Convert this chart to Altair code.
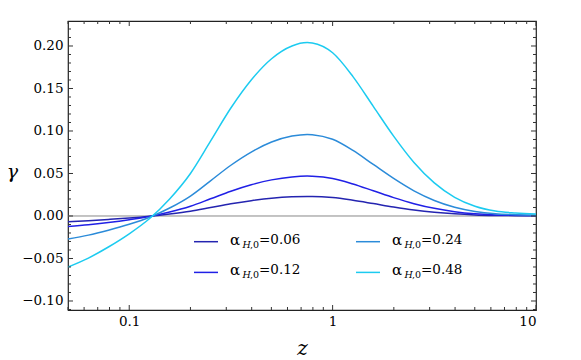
import altair as alt
import pandas as pd

# ---- data ----
z = [0.05, 0.063, 0.079, 0.1, 0.126, 0.158, 0.2, 0.251, 0.316, 0.398, 0.501, 0.631, 0.75,
     0.794, 1.0, 1.259, 1.585, 1.995, 2.512, 3.162, 3.981, 5.012, 6.31, 7.943, 10.0]
g006 = [-0.0067, -0.0055, -0.0041, -0.0024, -0.0003, 0.0023, 0.0056, 0.0099, 0.0143, 0.018,
        0.0209, 0.0226, 0.023, 0.023, 0.0217, 0.0185, 0.0146, 0.0106, 0.0071, 0.0044, 0.0025,
        0.0013, 0.0007, 0.0004, 0.0002]
g012 = [-0.0125, -0.0104, -0.0077, -0.0044, -0.0006, 0.0046, 0.0115, 0.0202, 0.0292, 0.0368,
        0.0425, 0.046, 0.047, 0.0468, 0.0442, 0.0377, 0.0297, 0.0216, 0.0145, 0.009, 0.0051,
        0.0026, 0.0013, 0.0008, 0.0005]
g024 = [-0.027, -0.0225, -0.0167, -0.0097, -0.0014, 0.0094, 0.0235, 0.0414, 0.0597, 0.0752,
        0.087, 0.094, 0.096, 0.0957, 0.0902, 0.0771, 0.0606, 0.0442, 0.0296, 0.0183, 0.0103,
        0.0054, 0.0027, 0.0016, 0.001]
g048 = [-0.060, -0.0495, -0.0365, -0.021, -0.003, 0.020, 0.050, 0.088, 0.127, 0.160, 0.185,
        0.200, 0.204, 0.2035, 0.192, 0.164, 0.129, 0.094, 0.063, 0.039, 0.022, 0.0115, 0.0058,
        0.0035, 0.0022]
alphas = ["0.06", "0.12", "0.24", "0.48"]
colors = ["#2424b0", "#2020e6", "#2b8bd9", "#1ccbf0"]
x_major = [0.1, 1, 10]
y_major = [-0.10, -0.05, 0.00, 0.05, 0.10, 0.15, 0.20]

series = [g006, g012, g024, g048]
df = pd.concat([pd.DataFrame({"z": z, "gamma": s, "alpha": a}) for s, a in zip(series, alphas)])

W, H = 468, 289
FONT = "DejaVu Serif"
x_scale = alt.Scale(type="log", domain=[0.05, 10], nice=False)
y_scale = alt.Scale(domain=[-0.1106, 0.2294], nice=False, zero=False)

x_axis = alt.Axis(values=x_major, labelExpr="format(datum.value, '~g')", ticks=False, domain=False,
                  grid=False, labelFont=FONT, labelFontSize=13.5, labelColor="black", labelPadding=4,
                  title="z", titleFont=FONT, titleFontStyle="italic", titleFontWeight="normal",
                  titleFontSize=20, titleColor="black", titleX=234, titleY=38,
                  titleAlign="center", titleBaseline="middle")
y_axis = alt.Axis(values=y_major, format=".2f", ticks=False, domain=False, grid=False,
                  labelFont=FONT, labelFontSize=13.5, labelColor="black", labelPadding=5,
                  title="γ", titleFont=FONT, titleFontStyle="italic", titleFontWeight="normal",
                  titleFontSize=19, titleColor="black", titleAngle=0, titleX=-56, titleY=150,
                  titleAlign="center", titleBaseline="middle")

X = lambda f: alt.X(f, scale=x_scale, axis=x_axis)
Y = lambda f: alt.Y(f, scale=y_scale, axis=y_axis)

layers = []

zero = alt.Chart(pd.DataFrame({"y0": [0.0]})).mark_rule(color="#888888", strokeWidth=1).encode(
    y=Y("y0:Q"))
layers.append(zero)

lines = alt.Chart(df).mark_line(strokeWidth=1.5, interpolate="monotone", clip=True).encode(
    x=X("z:Q"), y=Y("gamma:Q"),
    color=alt.Color("alpha:N", scale=alt.Scale(domain=alphas, range=colors), legend=None),
    detail="alpha:N")
layers.append(lines)

y_minor = [v / 100 for v in range(-11, 23) if v % 5 != 0]
x_minor = [m * d for d in (0.01, 0.1, 1) for m in range(2, 10) if 0.05 <= m * d < 10]
tick_col = "#333333"
for vals, ln in ((y_major, 5), (y_minor, 3)):
    d = pd.DataFrame({"v": vals})
    layers.append(alt.Chart(d).mark_rule(color=tick_col, strokeWidth=1).encode(
        y=Y("v:Q"), x=alt.value(0), x2=alt.value(ln)))
    layers.append(alt.Chart(d).mark_rule(color=tick_col, strokeWidth=1).encode(
        y=Y("v:Q"), x=alt.value(W), x2=alt.value(W - ln)))
for vals, ln in ((x_major, 5), (x_minor, 3)):
    d = pd.DataFrame({"v": vals})
    layers.append(alt.Chart(d).mark_rule(color=tick_col, strokeWidth=1).encode(
        x=X("v:Q"), y=alt.value(0), y2=alt.value(ln)))
    layers.append(alt.Chart(d).mark_rule(color=tick_col, strokeWidth=1).encode(
        x=X("v:Q"), y=alt.value(H), y2=alt.value(H - ln)))

one = pd.DataFrame({"k": [0]})
for i, (a, c) in enumerate(zip(alphas, colors)):
    row, col = i % 2, i // 2
    x0 = 126 + col * 162
    ty = 218.5 + row * 30.7
    ly = 220.7 + row * 30.7
    layers.append(alt.Chart(one).mark_rule(color=c, strokeWidth=1.5).encode(
        x=alt.value(x0), x2=alt.value(x0 + 24), y=alt.value(ly)))
    tx = x0 + 36
    layers.append(alt.Chart(one).mark_text(align="left", baseline="middle", font=FONT,
                                           fontSize=15, color="black").encode(
        x=alt.value(tx), y=alt.value(ty), text=alt.value("α")))
    layers.append(alt.Chart(one).mark_text(align="left", baseline="middle", font=FONT,
                                           fontSize=9.5, fontStyle="italic", color="black").encode(
        x=alt.value(tx + 12.5), y=alt.value(ty + 5), text=alt.value("H")))
    layers.append(alt.Chart(one).mark_text(align="left", baseline="middle", font=FONT,
                                           fontSize=9.5, color="black").encode(
        x=alt.value(tx + 20), y=alt.value(ty + 5), text=alt.value(",0")))
    layers.append(alt.Chart(one).mark_text(align="left", baseline="middle", font=FONT,
                                           fontSize=13.5, color="black").encode(
        x=alt.value(tx + 29), y=alt.value(ty), text=alt.value("=" + a)))

chart = alt.layer(*layers).properties(
    width=W, height=H,
    padding={"left": 60, "top": 13, "right": 30, "bottom": 50},
    autosize=alt.AutoSizeParams(type="none"),
).configure_view(stroke="#222222", strokeWidth=1.2)

chart.save("out.html", embed_options={"renderer": "svg", "actions": False})
